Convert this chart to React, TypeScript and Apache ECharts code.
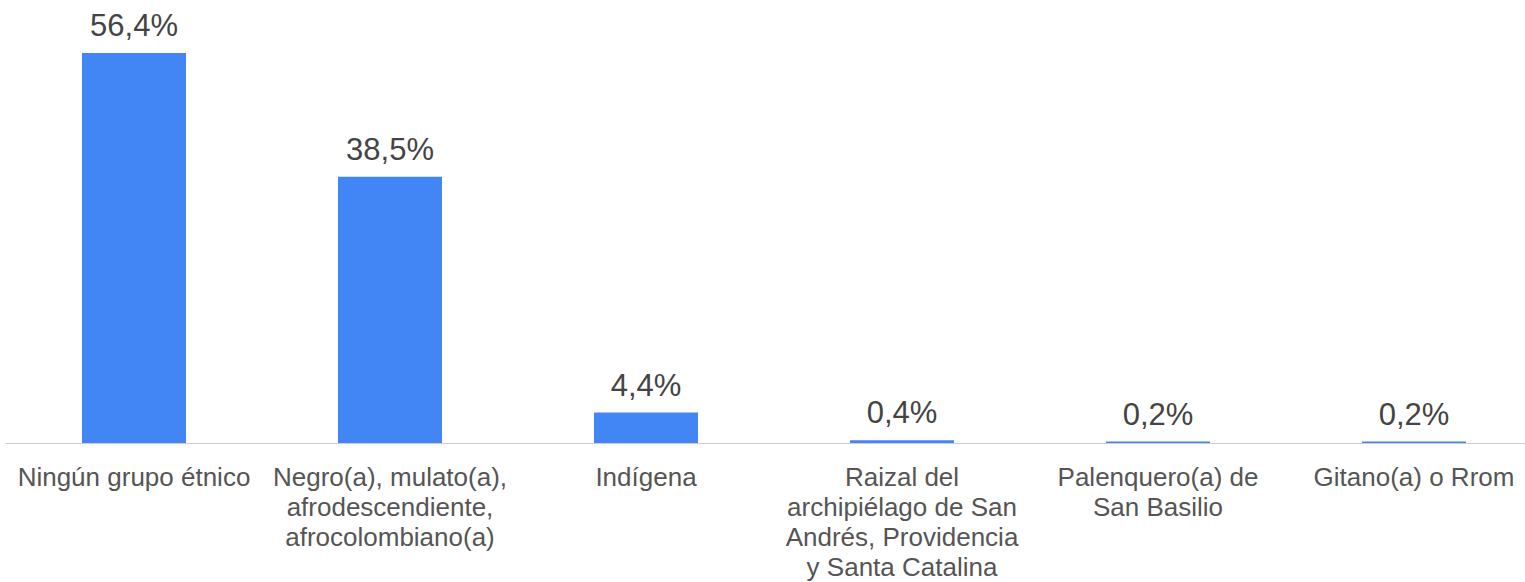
import React, { useEffect, useRef } from "react";
import * as echarts from "echarts";

const categories = [
  "Ningún grupo étnico",
  "Negro(a), mulato(a),\nafrodescendiente,\nafrocolombiano(a)",
  "Indígena",
  "Raizal del\narchipiélago de San\nAndrés, Providencia\ny Santa Catalina",
  "Palenquero(a) de\nSan Basilio",
  "Gitano(a) o Rrom",
];
const values = [56.4, 38.5, 4.4, 0.4, 0.2, 0.2];

export default function App() {
  const ref = useRef<HTMLDivElement>(null);
  useEffect(() => {
    if (!ref.current) return;
    const chart = echarts.init(ref.current, undefined, { renderer: "svg" });
    chart.setOption({
      animation: false,
      backgroundColor: "#ffffff",
      grid: { left: 6, right: 0, top: 28, bottom: 136, containLabel: false },
      xAxis: {
        type: "category",
        data: categories,
        axisLine: { lineStyle: { color: "#cccccc", width: 1 } },
        axisTick: { show: false },
        axisLabel: {
          interval: 0,
          color: "#555555",
          fontSize: 26,
          lineHeight: 30,
          margin: 19,
          fontFamily: "Liberation Sans, Arial, sans-serif",
        },
      },
      yAxis: {
        type: "value",
        min: 0,
        max: 60,
        show: false,
        splitLine: { show: false },
      },
      series: [
        {
          type: "bar",
          data: values,
          barWidth: 104,
          itemStyle: { color: "#4285F4" },
          label: {
            show: true,
            position: "top",
            distance: 12,
            color: "#444444",
            fontSize: 31,
            fontFamily: "Liberation Sans, Arial, sans-serif",
            formatter: (p: any) => String(p.value).replace(".", ",") + "%",
          },
        },
      ],
    });
    return () => chart.dispose();
  }, []);
  return (
    <div style={{ position: "fixed", left: 0, top: 0, width: 1525, height: 582, overflow: "hidden", background: "#fff" }}>
      <div ref={ref} style={{ width: 1542, height: 582 }} />
    </div>
  );
}
